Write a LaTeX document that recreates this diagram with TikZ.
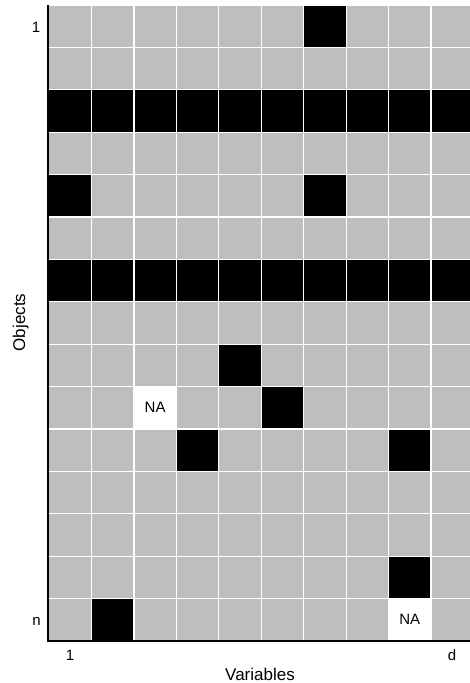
\documentclass[tikz,border=0pt]{standalone}
\usepackage{fontspec}
\setmainfont{Liberation Sans}
\definecolor{cellgray}{HTML}{BEBEBE}
\begin{document}
\begin{tikzpicture}[x=1pt,y=-1pt]
  \useasboundingbox (0,0) rectangle (470,683);
  \def\cw{42.45}
  \def\ch{42.4}
  % grey cells
  \fill[cellgray] (49,5) rectangle ({49+10*\cw},{5+15*\ch});
  % black rows
  \foreach \r in {3,7}
    \fill[black] (49,{5+(\r-1)*\ch}) rectangle ({49+10*\cw},{5+\r*\ch});
  % black cells
  \foreach \r/\c in {1/7,5/1,5/7,9/5,10/6,11/4,11/9,14/9,15/2}
    \fill[black] ({49+(\c-1)*\cw},{5+(\r-1)*\ch}) rectangle ++(\cw,\ch);
  % missing cells
  \foreach \r/\c/\n in {10/3/na1,15/9/na2} {
    \fill[white] ({49+(\c-1)*\cw},{5+(\r-1)*\ch}) rectangle ++(\cw,\ch);
    \node[font=\fontsize{15}{15}\selectfont] (\n) at ({49+(\c-0.5)*\cw},{5+(\r-0.5)*\ch}) {NA};
  }
  % white grid
  \foreach \c in {1,...,9}
    \draw[white, line width=1.3pt] ({49+\c*\cw},5) -- ({49+\c*\cw},{5+15*\ch});
  \foreach \r in {0,...,14}
    \draw[white, line width=1.3pt] (49,{5+\r*\ch}) -- ({49+10*\cw},{5+\r*\ch});
  % axes
  \coordinate (top) at (48,5);
  \coordinate (origin) at (48,641);
  \coordinate (right) at (470,641);
  \draw[black, line width=1.4pt] (top) -- (origin) -- (right);
  % labels
  \node[anchor=base, font=\fontsize{15}{15}\selectfont] (rowfirst) at (36,32.3) {1};
  \node[anchor=base, font=\fontsize{15}{15}\selectfont] (rowlast) at (36.5,625.7) {n};
  \node[anchor=base, font=\fontsize{15}{15}\selectfont] (colfirst) at (70,660) {1};
  \node[anchor=base, font=\fontsize{15}{15}\selectfont] (collast) at (452,660) {d};
  \node[anchor=base, font=\fontsize{17}{17}\selectfont] (xtitle) at (260,680) {Variables};
  \node[anchor=base, rotate=90, font=\fontsize{17}{17}\selectfont] (ytitle) at (25,322.5) {Objects};
\end{tikzpicture}
\end{document}
